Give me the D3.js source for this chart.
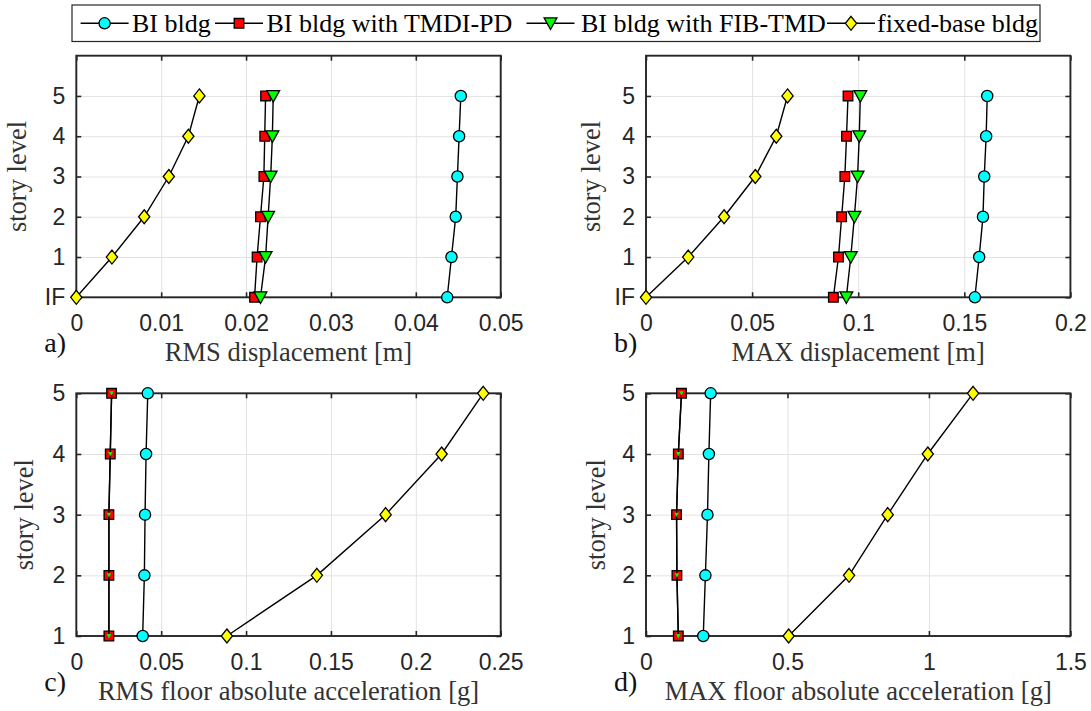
<!DOCTYPE html>
<html><head><meta charset="utf-8">
<script src="https://cdn.jsdelivr.net/npm/d3@7"></script>
<style>body{margin:0;background:#fff} svg{display:block}</style>
</head><body>
<svg id="chart" width="1091" height="711"></svg>
<script>
// ---------------- data ----------------
const seriesNames = ["BI bldg", "BI bldg with TMDI-PD", "BI bldg with FIB-TMD", "fixed-base bldg"];
const seriesColors = ["#00ffff", "#ff0000", "#00ff00", "#ffff00"];

const dispLevels = [0, 1, 2, 3, 4, 5];
const dispLevelLabels = ["IF", "1", "2", "3", "4", "5"];
const accLevels = [1, 2, 3, 4, 5];
const accLevelLabels = ["1", "2", "3", "4", "5"];

// a) RMS displacement [m]
const rmsDispBI    = [0.0437, 0.0442, 0.0447, 0.0449, 0.0451, 0.0453];
const rmsDispTMDI  = [0.0210, 0.0213, 0.0217, 0.0221, 0.0222, 0.0223];
const rmsDispFIB   = [0.0217, 0.0223, 0.0226, 0.0229, 0.0231, 0.0232];
const rmsDispFixed = [0.0000, 0.0042, 0.0080, 0.0109, 0.0132, 0.0145];

// b) MAX displacement [m]
const maxDispBI    = [0.1550, 0.1570, 0.1588, 0.1594, 0.1603, 0.1608];
const maxDispTMDI  = [0.0883, 0.0907, 0.0922, 0.0937, 0.0945, 0.0952];
const maxDispFIB   = [0.0944, 0.0965, 0.0982, 0.0997, 0.1005, 0.1010];
const maxDispFixed = [0.0000, 0.0199, 0.0368, 0.0515, 0.0614, 0.0667];

// c) RMS floor absolute acceleration [g]
const rmsAccBI    = [0.0391, 0.0401, 0.0405, 0.0411, 0.0421];
const rmsAccTMDI  = [0.0192, 0.0192, 0.0192, 0.0200, 0.0208];
const rmsAccFIB   = [0.0192, 0.0192, 0.0192, 0.0200, 0.0208];
const rmsAccFixed = [0.0887, 0.1417, 0.1822, 0.2152, 0.2397];

// d) MAX floor absolute acceleration [g]
const maxAccBI    = [0.2024, 0.2099, 0.2173, 0.2223, 0.2285];
const maxAccTMDI  = [0.1142, 0.1093, 0.1080, 0.1142, 0.1254];
const maxAccFIB   = [0.1142, 0.1093, 0.1080, 0.1142, 0.1254];
const maxAccFixed = [0.5041, 0.7177, 0.8543, 0.9959, 1.1560];

const rmsDispTicks = [0, 0.01, 0.02, 0.03, 0.04, 0.05];
const maxDispTicks = [0, 0.05, 0.1, 0.15, 0.2];
const rmsAccTicks  = [0, 0.05, 0.1, 0.15, 0.2, 0.25];
const maxAccTicks  = [0, 0.5, 1, 1.5];

const panelLetters = ["a)", "b)", "c)", "d)"];
const xTitles = ["RMS displacement [m]", "MAX displacement [m]",
                 "RMS floor absolute acceleration [g]", "MAX floor absolute acceleration [g]"];
const yTitle = "story level";

// ---------------- layout ----------------
const svg = d3.select("#chart");
const INK = "#262626";
const TICKFONT = "'Liberation Sans', Arial, sans-serif";
const SERIF = "'Liberation Serif', 'Times New Roman', serif";

const panels = [
  { x0: 76.3, x1: 500.7, yT: 55.7, yB: 297.3, xMax: 0.05, xTicks: rmsDispTicks,
    yDom: [0, 6], levels: dispLevels, yLabels: dispLevelLabels,
    series: [rmsDispBI, rmsDispTMDI, rmsDispFIB, rmsDispFixed], small: false, ylx: 26 },
  { x0: 646, x1: 1070.4, yT: 55.7, yB: 297.3, xMax: 0.2, xTicks: maxDispTicks,
    yDom: [0, 6], levels: dispLevels, yLabels: dispLevelLabels,
    series: [maxDispBI, maxDispTMDI, maxDispFIB, maxDispFixed], small: false, ylx: 600 },
  { x0: 76.3, x1: 500.7, yT: 393.3, yB: 636, xMax: 0.25, xTicks: rmsAccTicks,
    yDom: [1, 5], levels: accLevels, yLabels: accLevelLabels,
    series: [rmsAccBI, rmsAccTMDI, rmsAccFIB, rmsAccFixed], small: true, ylx: 33 },
  { x0: 646, x1: 1070.4, yT: 393.3, yB: 636, xMax: 1.5, xTicks: maxAccTicks,
    yDom: [1, 5], levels: accLevels, yLabels: accLevelLabels,
    series: [maxAccBI, maxAccTMDI, maxAccFIB, maxAccFixed], small: true, ylx: 605 }
];

// marker path generators (size in px)
function markerPath(kind, small) {
  const p = d3.path();
  if (kind === 0) { p.arc(0, 0, 5.6, 0, 2 * Math.PI); }
  else if (kind === 1) { p.rect(-4.8, -4.8, 9.6, 9.6); }
  else if (kind === 2) {
    const w = small ? 2.2 : 6.4, h = small ? 2 : 5.4;
    p.moveTo(-w, -h); p.lineTo(w, -h); p.lineTo(0, h + (small ? 0.4 : 0.8)); p.closePath();
  }
  else { p.moveTo(0, -7); p.lineTo(5.6, 0); p.lineTo(0, 7); p.lineTo(-5.6, 0); p.closePath(); }
  return p.toString();
}

const fmt = d3.format("~g");

panels.forEach((P, pi) => {
  const x = d3.scaleLinear().domain([0, P.xMax]).range([P.x0, P.x1]);
  const y = d3.scaleLinear().domain(P.yDom).range([P.yB, P.yT]);
  const g = svg.append("g");
  const W = P.x1 - P.x0, H = P.yB - P.yT;

  // grid
  const gx = g.append("g").attr("transform", `translate(0,${P.yB})`)
    .call(d3.axisBottom(x).tickValues(P.xTicks).tickSize(-H).tickFormat(""));
  const gy = g.append("g").attr("transform", `translate(${P.x0},0)`)
    .call(d3.axisLeft(y).tickValues(P.levels).tickSize(-W).tickFormat(""));
  [gx, gy].forEach(a => {
    a.select(".domain").remove();
    a.selectAll("line").attr("stroke", "#e3e3e3").attr("stroke-width", 1);
  });

  // ticks + labels
  const axB = g.append("g").attr("transform", `translate(0,${P.yB})`)
    .call(d3.axisBottom(x).tickValues(P.xTicks).tickSize(-5).tickSizeOuter(0).tickPadding(17.5).tickFormat(fmt));
  const axT = g.append("g").attr("transform", `translate(0,${P.yT})`)
    .call(d3.axisTop(x).tickValues(P.xTicks).tickSize(-5).tickSizeOuter(0).tickFormat(""));
  const axL = g.append("g").attr("transform", `translate(${P.x0},0)`)
    .call(d3.axisLeft(y).tickValues(P.levels).tickSize(-5).tickSizeOuter(0).tickPadding(11)
      .tickFormat((d, i) => P.yLabels[i]));
  const axR = g.append("g").attr("transform", `translate(${P.x1},0)`)
    .call(d3.axisRight(y).tickValues(P.levels).tickSize(-5).tickSizeOuter(0).tickFormat(""));
  [axB, axT, axL, axR].forEach(a => {
    a.select(".domain").remove();
    a.selectAll("line").attr("stroke", INK).attr("stroke-width", 1.6);
    a.selectAll("text").attr("fill", INK).style("font-family", TICKFONT).style("font-size", "23px");
  });

  // box
  g.append("rect").attr("x", P.x0).attr("y", P.yT).attr("width", W).attr("height", H)
    .attr("fill", "none").attr("stroke", INK).attr("stroke-width", 1.9);

  // series
  const line = d3.line().x(d => x(d[0])).y(d => y(d[1]));
  P.series.forEach((vals, si) => {
    const pts = vals.map((v, i) => [v, P.levels[i]]);
    g.append("path").datum(pts).attr("d", line)
      .attr("fill", "none").attr("stroke", "#000").attr("stroke-width", 1.4);
    g.selectAll(null).data(pts).enter().append("path")
      .attr("d", markerPath(si, P.small && si === 2))
      .attr("transform", d => `translate(${x(d[0])},${y(d[1])})`)
      .attr("fill", seriesColors[si])
      .attr("stroke", P.small && si === 2 ? "none" : "#000")
      .attr("stroke-width", 1.3);
  });

  // axis titles
  svg.append("text").attr("x", (P.x0 + P.x1) / 2).attr("y", P.yB + 64)
    .attr("text-anchor", "middle").attr("fill", "#333")
    .style("font-family", SERIF).style("font-size", "26.5px").text(xTitles[pi]);
  svg.append("text").attr("transform", `translate(${P.ylx},${(P.yT + P.yB) / 2}) rotate(-90)`)
    .attr("text-anchor", "middle").attr("fill", "#333")
    .style("font-family", SERIF).style("font-size", "26.5px").text(yTitle);
  svg.append("text").attr("x", P.x0 - 32).attr("y", P.yB + 55)
    .attr("fill", "#111")
    .style("font-family", SERIF).style("font-size", "28px").text(panelLetters[pi]);
});

// ---------------- legend ----------------
const leg = svg.append("g");
leg.append("rect").attr("x", 72).attr("y", 5).attr("width", 968).attr("height", 36.5)
  .attr("fill", "#fff").attr("stroke", INK).attr("stroke-width", 1.2);
const legMarkerX = [104.6, 239, 550.5, 851];
const legTextX = [132, 266.5, 581, 877];
const legY = 23.3;
seriesNames.forEach((name, si) => {
  const mx = legMarkerX[si];
  leg.append("line").attr("x1", mx - 24).attr("x2", mx + 24).attr("y1", legY).attr("y2", legY)
    .attr("stroke", "#000").attr("stroke-width", 1.4);
  leg.append("path").attr("d", markerPath(si, false))
    .attr("transform", `translate(${mx},${legY})`)
    .attr("fill", seriesColors[si]).attr("stroke", "#000").attr("stroke-width", 1.3);
  leg.append("text").attr("x", legTextX[si]).attr("y", legY + 8.5)
    .attr("fill", "#000").style("font-family", SERIF).style("font-size", "26px").text(name);
});
</script>
</body></html>
